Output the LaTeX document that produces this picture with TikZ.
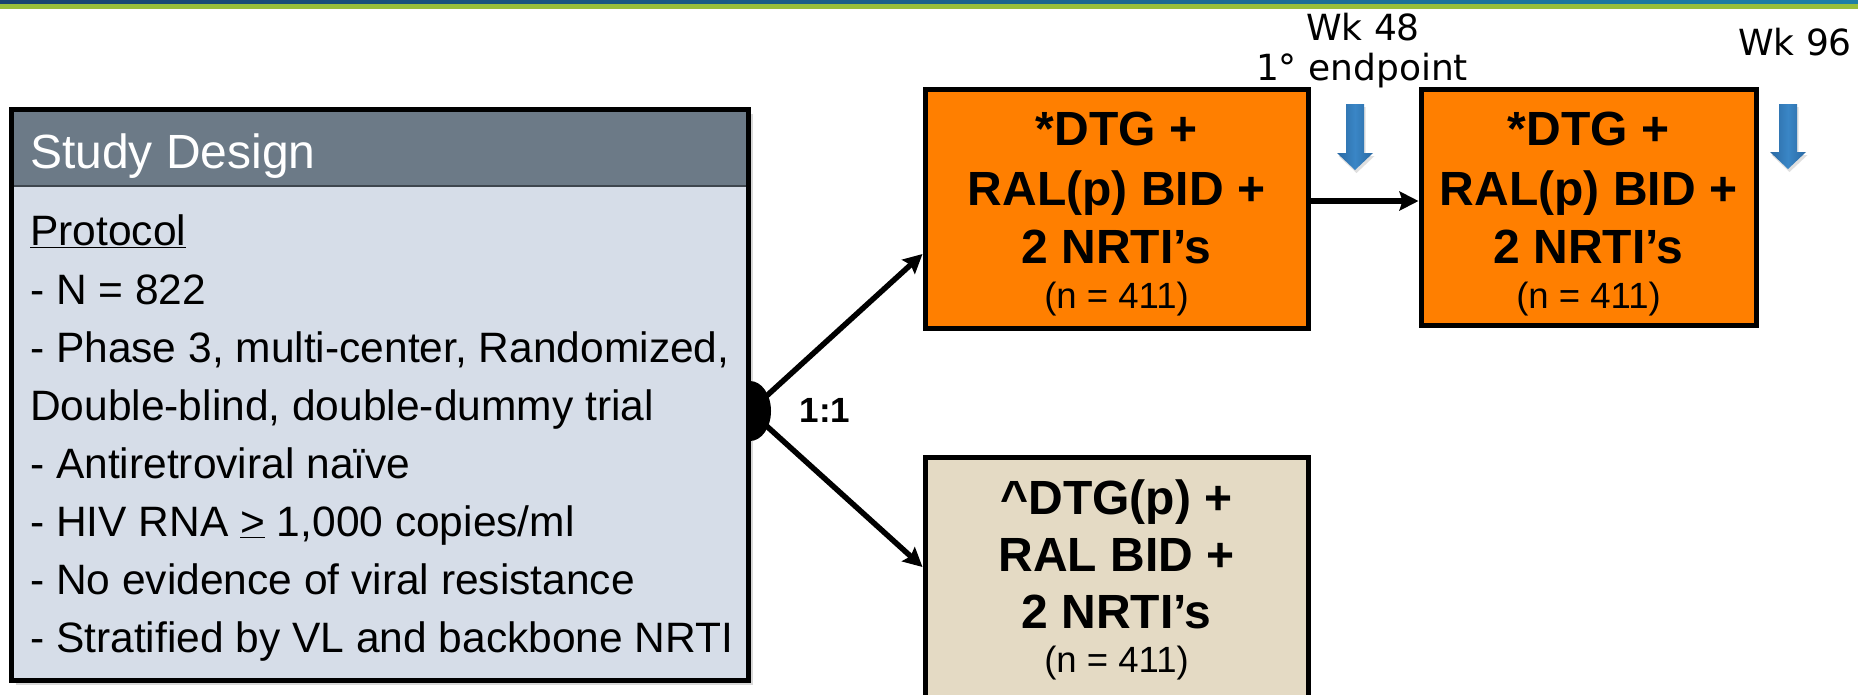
\documentclass[tikz,border=0pt]{standalone}
\usepackage{fontspec}
\setmainfont{Liberation Sans}
\newfontfamily\wkfont{DejaVu Sans}
\usetikzlibrary{arrows.meta,shadows,calc}

\definecolor{barnavy}{HTML}{18436F}
\definecolor{barteal}{HTML}{1E7FA6}
\definecolor{bargreen}{HTML}{98BE3A}
\definecolor{headfill}{HTML}{6C7A87}
\definecolor{headline}{HTML}{3E464E}
\definecolor{bodyfill}{HTML}{D6DDE8}
\definecolor{armorange}{HTML}{FF7F00}
\definecolor{armtan}{HTML}{E4DAC4}
\definecolor{markblue}{HTML}{2A69A3}
\definecolor{markbluelt}{HTML}{3A86C6}

\tikzset{
  armbox/.style={draw=black, line width=5pt, inner sep=0pt},
  bodyline/.style={anchor=base west, inner sep=0pt, font=\fontsize{42.5}{50}\selectfont},
  armtext/.style={anchor=base, inner sep=0pt, font=\fontsize{48}{56}\selectfont\bfseries},
  armcount/.style={anchor=base, inner sep=0pt, font=\fontsize{36.5}{42}\selectfont},
  flow/.style={line width=5.5pt, -{Stealth[length=19pt,width=19pt,inset=3pt]}},
  weeklabel/.style={anchor=base, inner sep=0pt, font=\wkfont\fontsize{36}{42}\selectfont},
  marker/.style={left color=markblue, right color=markblue, middle color=markbluelt,
    drop shadow={shadow xshift=1.5pt, shadow yshift=-3pt, opacity=0.25}},
}

\begin{document}
\begin{tikzpicture}[x=1pt,y=-1pt]
\clip (0,0) rectangle (1858,694);
\fill[white] (0,0) rectangle (1858,694);

% title bar along the top edge
\shade[left color=barnavy, right color=barteal] (0,0) rectangle (1858,3.5);
\fill[bargreen] (0,3.5) rectangle (1858,8.5);

% study design panel
\node[fill=bodyfill, inner sep=0pt, outer sep=0pt, minimum width=737pt, minimum height=571pt,
      drop shadow={shadow xshift=5pt, shadow yshift=-5pt, opacity=0.3}] (design) at (379.5,394.5) {};
\fill[headfill] (design.north west) rectangle ([yshift=-77pt]design.north east);
\draw[headline, line width=2pt] ([yshift=-77pt]design.north west) -- ([yshift=-77pt]design.north east);
\draw[line width=5pt] (design.north west) rectangle (design.south east);

\node[anchor=base west, inner sep=0pt, text=white, font=\fontsize{48}{56}\selectfont] (title) at (30,168) {Study Design};
\node[bodyline] (p1) at (30,245) {\underline{Protocol}};
\node[bodyline] (p2) at (30,304) {- N = 822};
\node[bodyline] (p3) at (30,362) {- Phase 3, multi-center, Randomized,};
\node[bodyline] (p4) at (30,420) {Double-blind, double-dummy trial};
\node[bodyline] (p5) at (30,478) {- Antiretroviral naïve};
\node[bodyline] (p6) at (30,536) {- HIV RNA \underline{>} 1,000 copies/ml};
\node[bodyline] (p7) at (30,594) {- No evidence of viral resistance};
\node[bodyline] (p8) at (30,652) {- Stratified by VL and backbone NRTI};

% treatment arms
\node[armbox, fill=armorange, minimum width=383pt, minimum height=239pt] (arm1) at (1116.5,208.5) {};
\node[armbox, fill=armorange, minimum width=335pt, minimum height=236pt] (arm2) at (1588.5,207) {};
\node[armbox, fill=armtan, minimum width=383pt, minimum height=260pt] (arm3) at (1116.5,587) {};

\path (arm1.north) ++(0,58.5) node[armtext] (a1l1) {*DTG +}
      (arm1.north) ++(0,118.5) node[armtext] (a1l2) {RAL(p) BID +}
      (arm1.north) ++(0,176.5) node[armtext] (a1l3) {2 NRTI’s}
      (arm1.north) ++(0,221.5) node[armcount] (a1l4) {(n = 411)};
\path (arm2.north) ++(0,58.5) node[armtext] (a2l1) {*DTG +}
      (arm2.north) ++(0,118.5) node[armtext] (a2l2) {RAL(p) BID +}
      (arm2.north) ++(0,176.5) node[armtext] (a2l3) {2 NRTI’s}
      (arm2.north) ++(0,221.5) node[armcount] (a2l4) {(n = 411)};
\path (arm3.north) ++(0,60) node[armtext] (a3l1) {\textasciicircum DTG(p) +}
      (arm3.north) ++(0,117) node[armtext] (a3l2) {RAL BID +}
      (arm3.north) ++(0,174) node[armtext] (a3l3) {2 NRTI’s}
      (arm3.north) ++(0,218) node[armcount] (a3l4) {(n = 411)};

% randomisation split
\coordinate (split) at (750,411);
\draw[flow] (split) -- ([yshift=-45.5pt]arm1.west);
\draw[flow] (split) -- ([yshift=20pt]arm3.west);
\begin{scope}
  \clip (748,370) rectangle (790,450);
  \fill[black] (split) ellipse [x radius=21, y radius=30];
\end{scope}
\node[anchor=base, inner sep=0pt, font=\fontsize{35}{40}\selectfont\bfseries] (ratio) at (825,422) {1:1};

% continuation to week 96
\draw[flow] ([yshift=7.5pt]arm1.east) -- ([yshift=7.5pt]arm1.east -| arm2.west);

% time-point markers
\shade[marker] (1346,104) -- (1364,104) -- (1364,153) -- (1373,153) -- (1355,170)
      -- (1337,153) -- (1346,153) -- cycle;
\shade[marker] (1779,104) -- (1797,104) -- (1797,152) -- (1806,152) -- (1788,169)
      -- (1770,152) -- (1779,152) -- cycle;

\node[weeklabel] (wk48) at (1363,40) {Wk 48};
\node[weeklabel] (endpt) at (1362,80) {1° endpoint};
\node[weeklabel] (wk96) at (1795,55) {Wk 96};
\end{tikzpicture}
\end{document}
